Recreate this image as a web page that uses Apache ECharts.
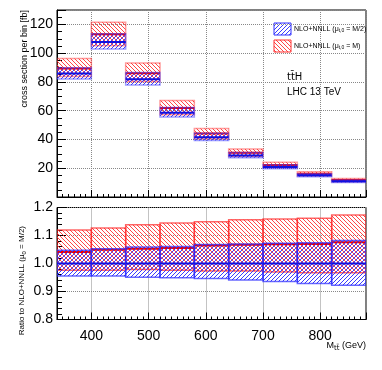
<!DOCTYPE html>
<html>
<head>
<meta charset="utf-8">
<script src="https://cdn.jsdelivr.net/npm/echarts@6/dist/echarts.min.js"></script>
<style>
html, body { margin: 0; padding: 0; background: #fff; }
#container { width: 382px; height: 370px; }
</style>
</head>
<body>
<div id="container"></div>
<script>
var binLow = [340, 400, 460, 520, 580, 640, 700, 760, 820];
var binHigh = [400, 460, 520, 580, 640, 700, 760, 820, 880];

// cross section per bin [fb], mu0 = M/2 (blue) and mu0 = M (red)
var halfCentral = [85.9, 107.8, 81.8, 58.6, 41.5, 28.9, 20.9, 15.1, 11.0];
var halfLow = [82.0, 102.9, 77.8, 55.6, 39.3, 27.2, 19.6, 14.0, 10.1];
var halfHigh = [89.9, 113.5, 86.6, 62.2, 44.3, 30.9, 22.4, 16.2, 11.9];
var fullCentral = [89.4, 113.1, 86.1, 61.8, 44.2, 30.8, 22.3, 16.2, 11.8];
var fullLow = [83.8, 105.2, 80.1, 57.2, 40.4, 28.1, 20.3, 14.6, 10.6];
var fullHigh = [96.2, 121.5, 93.1, 67.1, 47.7, 33.4, 24.2, 17.5, 12.9];

// ratio to NLO+NNLL (mu0 = M/2)
var ratioHalfCentral = [1.0, 1.0, 1.0, 1.0, 1.0, 1.0, 1.0, 1.0, 1.0];
var ratioHalfLow = [0.955, 0.955, 0.951, 0.949, 0.946, 0.941, 0.936, 0.929, 0.922];
var ratioHalfHigh = [1.047, 1.053, 1.059, 1.061, 1.068, 1.070, 1.072, 1.074, 1.082];
var ratioFullCentral = [1.041, 1.049, 1.053, 1.055, 1.064, 1.067, 1.069, 1.070, 1.076];
var ratioFullLow = [0.976, 0.976, 0.979, 0.976, 0.973, 0.973, 0.970, 0.967, 0.967];
var ratioFullHigh = [1.120, 1.127, 1.138, 1.145, 1.149, 1.156, 1.159, 1.162, 1.173];

function hatch(color, up) {
    var c = document.createElement('canvas');
    c.width = 4;
    c.height = 4;
    var ctx = c.getContext('2d');
    ctx.strokeStyle = color;
    ctx.lineWidth = 1;
    ctx.beginPath();
    if (up) {
        ctx.moveTo(0, 4); ctx.lineTo(4, 0);
        ctx.moveTo(-1, 1); ctx.lineTo(1, -1);
        ctx.moveTo(3, 5); ctx.lineTo(5, 3);
    } else {
        ctx.moveTo(0, 0); ctx.lineTo(4, 4);
        ctx.moveTo(-1, 3); ctx.lineTo(1, 5);
        ctx.moveTo(3, -1); ctx.lineTo(5, 1);
    }
    ctx.stroke();
    return c;
}
var blueHatch = hatch('rgba(40,40,255,0.9)', true);
var redHatch = hatch('rgba(255,40,40,0.85)', false);

function rows(lo, hi, mid) {
    var d = [];
    for (var i = 0; i < binLow.length; i++) {
        d.push([binLow[i], binHigh[i], lo[i], hi[i], mid[i]]);
    }
    return d;
}

function band(img, border, lineColor) {
    return function (params, api) {
        var a = api.coord([api.value(0), api.value(3)]);
        var b = api.coord([api.value(1), api.value(2)]);
        var c0 = api.coord([api.value(0), api.value(4)]);
        var c1 = api.coord([api.value(1), api.value(4)]);
        return {
            type: 'group',
            children: [{
                type: 'rect',
                shape: { x: a[0], y: a[1], width: b[0] - a[0], height: b[1] - a[1] },
                style: { fill: { image: img, repeat: 'repeat' }, stroke: border, lineWidth: 1.5 }
            }, {
                type: 'line',
                shape: { x1: c0[0], y1: c0[1], x2: c1[0], y2: c1[1] },
                style: { stroke: lineColor, lineWidth: 2 }
            }]
        };
    };
}

var font = 'Liberation Sans';
var split = { show: true, lineStyle: { color: '#888', type: 'dotted', width: 1 } };

function xAxis(idx, labels) {
    return {
        type: 'value', gridIndex: idx, min: 340, max: 880,
        axisLine: { lineStyle: { color: '#000' } },
        axisTick: { inside: true, length: 7, lineStyle: { color: '#000' } },
        minorTick: { show: true, splitNumber: 10, length: 3, lineStyle: { color: '#000' } },
        splitLine: split,
        axisLabel: {
            show: labels, color: '#000', fontSize: 14, fontFamily: font, margin: 10,
            showMinLabel: false, showMaxLabel: false,
            formatter: function (v) { return v % 100 === 0 ? String(v) : ''; }
        }
    };
}

var option = {
    animation: false,
    grid: [
        { left: 57, top: 10, width: 309, height: 187, show: true, borderColor: '#000', borderWidth: 1 },
        { left: 57, top: 207.5, width: 309, height: 112, show: true, borderColor: '#000', borderWidth: 1 }
    ],
    xAxis: [xAxis(0, false), xAxis(1, true)],
    yAxis: [{
        type: 'value', gridIndex: 0, min: 0, max: 130, interval: 20,
        axisLine: { lineStyle: { color: '#000' } },
        axisTick: { inside: true, length: 9, lineStyle: { color: '#000' } },
        minorTick: { show: true, splitNumber: 4, length: 5, lineStyle: { color: '#000' } },
        splitLine: split,
        axisLabel: {
            color: '#000', fontSize: 14, fontFamily: font, margin: 4, showMaxLabel: false,
            formatter: function (v) { return v > 0 && v % 20 === 0 ? String(v) : ''; }
        }
    }, {
        type: 'value', gridIndex: 1, min: 0.8, max: 1.2, interval: 0.1,
        axisLine: { lineStyle: { color: '#000' } },
        axisTick: { inside: true, length: 9, lineStyle: { color: '#000' } },
        minorTick: { show: true, splitNumber: 5, length: 5, lineStyle: { color: '#000' } },
        splitLine: split,
        axisLabel: {
            color: '#000', fontSize: 14, fontFamily: font, margin: 4,
            formatter: function (v) { return v.toFixed(1); }
        }
    }],
    series: [{
        type: 'custom', xAxisIndex: 0, yAxisIndex: 0, silent: true, clip: true,
        renderItem: band(redHatch, 'rgba(255,60,60,0.5)', '#f00000'),
        encode: { x: [0, 1], y: [2, 3] },
        data: rows(fullLow, fullHigh, fullCentral)
    }, {
        type: 'custom', xAxisIndex: 0, yAxisIndex: 0, silent: true, clip: true,
        renderItem: band(blueHatch, 'rgba(60,60,255,0.5)', '#1010e0'),
        encode: { x: [0, 1], y: [2, 3] },
        data: rows(halfLow, halfHigh, halfCentral)
    }, {
        type: 'custom', xAxisIndex: 1, yAxisIndex: 1, silent: true, clip: true,
        renderItem: band(redHatch, 'rgba(255,40,40,0.7)', '#f00000'),
        encode: { x: [0, 1], y: [2, 3] },
        data: rows(ratioFullLow, ratioFullHigh, ratioFullCentral)
    }, {
        type: 'custom', xAxisIndex: 1, yAxisIndex: 1, silent: true, clip: true,
        renderItem: band(blueHatch, 'rgba(40,40,255,0.7)', '#1010e0'),
        encode: { x: [0, 1], y: [2, 3] },
        data: rows(ratioHalfLow, ratioHalfHigh, ratioHalfCentral)
    }],
    graphic: [{
        type: 'text', x: 25, y: 10, rotation: Math.PI / 2,
        style: { text: 'cross section per bin [fb]', fontSize: 9, fontFamily: font, fill: '#000', align: 'right', verticalAlign: 'middle' }
    }, {
        type: 'text', x: 22, y: 226, rotation: Math.PI / 2,
        style: {
            text: '{a|Ratio to NLO+NNLL (μ}{s|0}{a| = M/2)}', align: 'right', verticalAlign: 'middle',
            rich: { a: { fontSize: 8, fontFamily: font, fill: '#000', lineHeight: 10 }, s: { fontSize: 6, fontFamily: font, fill: '#000', lineHeight: 10, verticalAlign: 'bottom' } }
        }
    }, {
        type: 'text', x: 366, y: 346,
        style: {
            text: '{a|M}{s|tt̄}{a| (GeV)}', align: 'right', verticalAlign: 'middle',
            rich: { a: { fontSize: 9, fontFamily: font, fill: '#000', lineHeight: 12 }, s: { fontSize: 7, fontFamily: 'DejaVu Sans', fill: '#000', lineHeight: 12, verticalAlign: 'bottom' } }
        }
    }, {
        type: 'rect', shape: { x: 274, y: 23, width: 17, height: 12 },
        style: { fill: { image: blueHatch, repeat: 'repeat' }, stroke: '#3030ff', lineWidth: 1 }
    }, {
        type: 'rect', shape: { x: 274, y: 40, width: 17, height: 12 },
        style: { fill: { image: redHatch, repeat: 'repeat' }, stroke: '#ff3030', lineWidth: 1 }
    }, {
        type: 'text', x: 294, y: 29,
        style: {
            text: '{a|NLO+NNLL (μ}{s|t,0}{a| = M/2)}', verticalAlign: 'middle',
            rich: { a: { fontSize: 7, fontFamily: font, fill: '#000', lineHeight: 9 }, s: { fontSize: 5, fontFamily: font, fill: '#000', lineHeight: 9, verticalAlign: 'bottom' } }
        }
    }, {
        type: 'text', x: 294, y: 46,
        style: {
            text: '{a|NLO+NNLL (μ}{s|t,0}{a| = M)}', verticalAlign: 'middle',
            rich: { a: { fontSize: 7, fontFamily: font, fill: '#000', lineHeight: 9 }, s: { fontSize: 5, fontFamily: font, fill: '#000', lineHeight: 9, verticalAlign: 'bottom' } }
        }
    }, {
        type: 'text', x: 287, y: 77,
        style: { text: 'tt̄H', fontSize: 10, fontFamily: 'DejaVu Sans', fill: '#000', verticalAlign: 'middle' }
    }, {
        type: 'text', x: 287, y: 92,
        style: { text: 'LHC 13 TeV', fontSize: 10, fontFamily: font, fill: '#000', verticalAlign: 'middle' }
    }]
};

var myChart = echarts.init(document.getElementById('container'));
myChart.setOption(option);
</script>
</body>
</html>
